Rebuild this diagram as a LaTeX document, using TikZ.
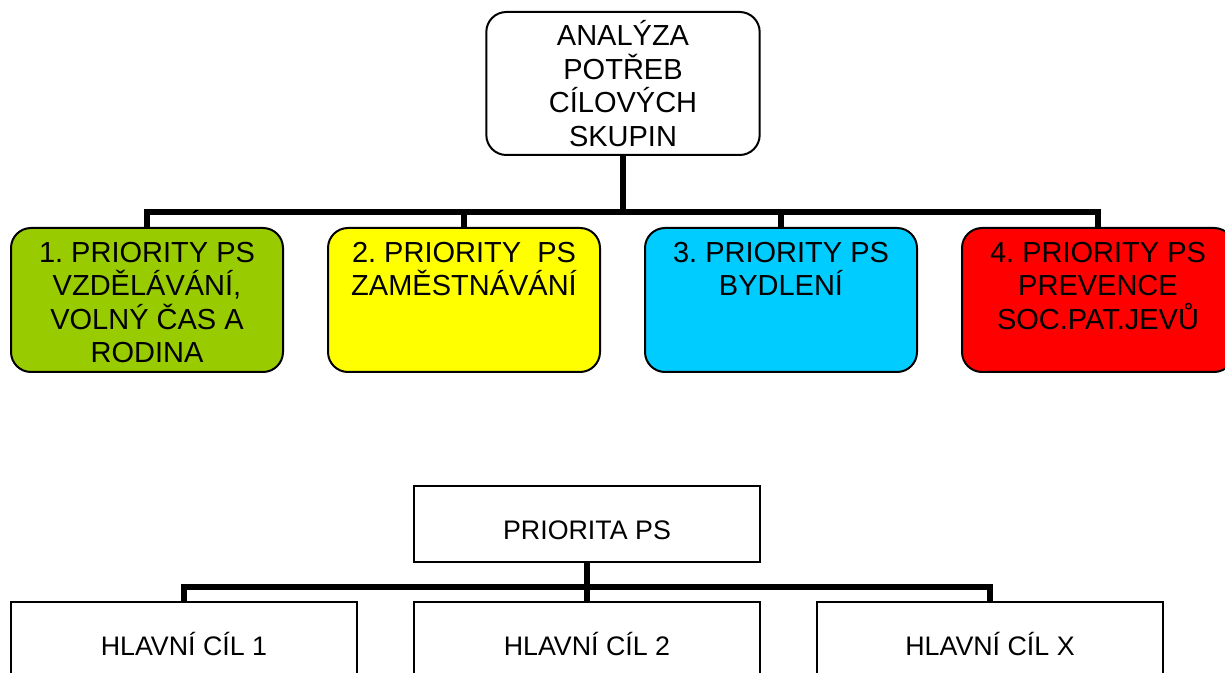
\documentclass[tikz,border=0pt]{standalone}
\usepackage{fontspec}
\setmainfont{Liberation Sans}
\usetikzlibrary{positioning}

\definecolor{prioGreen}{HTML}{99CC00}
\definecolor{prioYellow}{HTML}{FFFF00}
\definecolor{prioBlue}{HTML}{00CCFF}
\definecolor{prioRed}{HTML}{FF0000}

\frenchspacing
\newcommand{\priotext}[1]{\parbox[c][58pt][t]{130pt}{\centering #1}}

\begin{document}
\begin{tikzpicture}[x=0.5pt, y=-0.5pt, node distance=21.5pt,
    topbox/.style={draw, line width=1pt, rounded corners=10pt, fill=white,
        minimum width=136pt, minimum height=71.5pt, text width=130pt, align=center,
        font=\fontsize{14.5}{16.7}\selectfont},
    priobox/.style={draw, line width=1pt, rounded corners=10pt,
        minimum width=136pt, minimum height=72pt, inner xsep=3pt, inner ysep=7pt,
        font=\fontsize{14.5}{16.7}\selectfont},
    goalbox/.style={draw, line width=1pt, minimum width=173pt, minimum height=38pt,
        text height=15pt, text depth=0pt, font=\fontsize{13.4}{16}\selectfont},
    bar/.style={line width=3pt}]
    \useasboundingbox (0,0) rectangle (1225,673);

    % upper chart
    \node (analyza) [topbox] at (623,83.5) {ANALÝZA\\POTŘEB\\CÍLOVÝCH\\SKUPIN};
    \node (p1) [priobox, fill=prioGreen] at (147,300)
        {\priotext{1. PRIORITY PS\\VZDĚLÁVÁNÍ,\\VOLNÝ ČAS A\\RODINA}};
    \node (p2) [priobox, fill=prioYellow, right=of p1]
        {\priotext{2. PRIORITY\ \ PS\\ZAMĚSTNÁVÁNÍ}};
    \node (p3) [priobox, fill=prioBlue, right=of p2]
        {\priotext{3. PRIORITY PS\\BYDLENÍ}};
    \node (p4) [priobox, fill=prioRed, right=of p3]
        {\priotext{4. PRIORITY PS\\PREVENCE\\SOC.PAT.JEVŮ}};
    \coordinate (topbar) at (623,212);
    \foreach \n in {p1,p2,p3,p4}
        \draw [bar] (analyza.south) -- (analyza.south |- topbar) -| (\n.north);

    % lower chart
    \node (priorita) [goalbox] at (587,524) {PRIORITA PS};
    \node (cil2) [goalbox] at (587,640) {HLAVNÍ CÍL 2};
    \node (cil1) [goalbox, left=27.5pt of cil2] {HLAVNÍ CÍL 1};
    \node (cilx) [goalbox, right=27.5pt of cil2] {HLAVNÍ CÍL X};
    \coordinate (lowbar) at (587,587);
    \foreach \n in {cil1,cil2,cilx}
        \draw [bar] (priorita.south) -- (priorita.south |- lowbar) -| (\n.north);
\end{tikzpicture}
\end{document}
